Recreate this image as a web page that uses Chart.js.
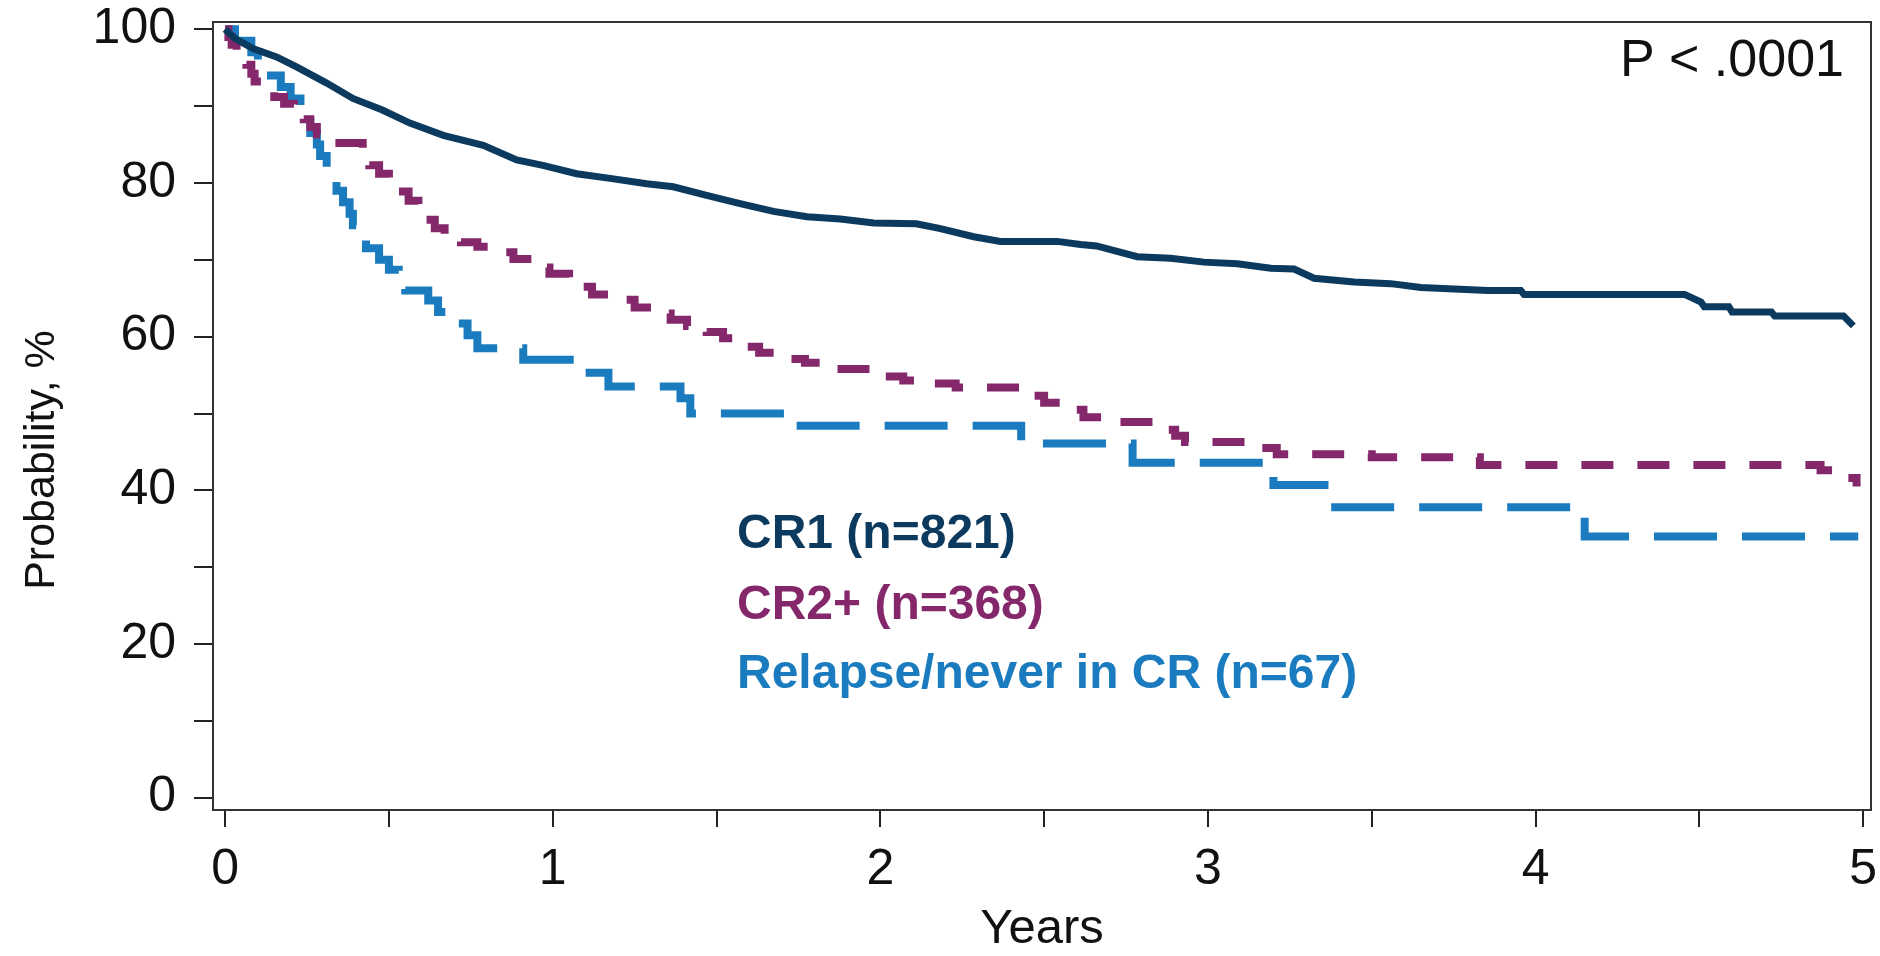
<!DOCTYPE html>
<html>
<head>
<meta charset="utf-8">
<script src="https://cdn.jsdelivr.net/npm/chart.js@4.4.1/dist/chart.umd.min.js"></script>
<style>
  html, body { margin: 0; padding: 0; background: #fff; }
  #wrap { width: 1880px; height: 956px; }
</style>
</head>
<body>
<div id="wrap"><canvas id="km" width="1880" height="956"></canvas></div>
<script>
// Kaplan-Meier curves, years vs probability (%)
const cr1Years = [0, 0.03, 0.085, 0.157, 0.218, 0.31, 0.39, 0.48, 0.564, 0.666, 0.788, 0.89, 0.97, 1.073, 1.175, 1.287, 1.368, 1.47, 1.572, 1.674, 1.776, 1.878, 1.98, 2.11, 2.18, 2.285, 2.367, 2.54, 2.611, 2.66, 2.784, 2.886, 2.988, 3.09, 3.192, 3.263, 3.324, 3.446, 3.558, 3.65, 3.854, 3.955, 3.965, 4.455, 4.505, 4.515, 4.59, 4.6, 4.72, 4.73, 4.94, 4.97];
const cr1Prob = [100, 98.8, 97.5, 96.4, 95.1, 93.0, 91.0, 89.5, 87.8, 86.2, 84.9, 83.0, 82.3, 81.2, 80.6, 79.9, 79.5, 78.4, 77.3, 76.3, 75.6, 75.3, 74.8, 74.7, 74.1, 73.0, 72.4, 72.4, 72.0, 71.8, 70.4, 70.2, 69.7, 69.5, 68.9, 68.8, 67.6, 67.1, 66.9, 66.4, 66.0, 66.0, 65.5, 65.5, 64.5, 63.9, 63.9, 63.2, 63.2, 62.7, 62.7, 61.4];

const cr2Years = [0, 0.01, 0.02, 0.035, 0.05, 0.065, 0.08, 0.09, 0.12, 0.15, 0.18, 0.21, 0.24, 0.26, 0.28, 0.3, 0.42, 0.44, 0.47, 0.5, 0.53, 0.56, 0.59, 0.61, 0.64, 0.67, 0.72, 0.77, 0.84, 0.88, 0.95, 0.99, 1.05, 1.09, 1.12, 1.21, 1.25, 1.3, 1.36, 1.41, 1.47, 1.52, 1.58, 1.63, 1.72, 1.77, 1.83, 2.0, 2.07, 2.16, 2.23, 2.44, 2.5, 2.57, 2.62, 2.7, 2.86, 2.9, 2.93, 3.15, 3.21, 3.5, 3.83, 4.87, 4.95, 4.98];
const cr2Prob = [100, 99, 98, 97, 96.2, 95.4, 94.2, 93.2, 92.2, 91.2, 90.3, 89.4, 88.3, 87.3, 86.3, 85.2, 83.6, 82.3, 81.2, 80, 78.9, 77.7, 76.4, 75.2, 74.1, 73.2, 72.3, 71.7, 71, 70.1, 69, 68.2, 67.3, 66.5, 65.5, 64.8, 63.8, 63, 62.2, 61.4, 60.6, 59.8, 58.7, 57.9, 57.1, 56.6, 55.8, 54.8, 54.3, 53.9, 53.4, 52.3, 51.4, 50.5, 49.5, 48.9, 47.9, 47.1, 46.3, 45.5, 44.7, 44.3, 43.3, 42.6, 41.6, 40.5];

const relYears = [0, 0.03, 0.08, 0.10, 0.12, 0.17, 0.2, 0.23, 0.24, 0.26, 0.28, 0.29, 0.31, 0.32, 0.34, 0.36, 0.38, 0.39, 0.41, 0.43, 0.47, 0.50, 0.53, 0.55, 0.62, 0.65, 0.70, 0.74, 0.77, 0.91, 1.08, 1.17, 1.39, 1.42, 1.72, 2.43, 2.77, 3.2, 3.37, 4.15, 4.985];
const relProb = [100, 98.5, 97, 95.5, 94, 92.5, 91, 89.5, 88, 86.5, 85, 83.5, 82, 80.5, 79, 77.5, 76, 74.5, 73, 71.5, 70, 68.7, 67.2, 66, 64.7, 63.2, 61.7, 60.2, 58.5, 57, 55.3, 53.5, 52, 50, 48.4, 46.1, 43.6, 40.7, 37.8, 34, 34];

const seriesLabels = ['CR1 (n=821)', 'CR2+ (n=368)', 'Relapse/never in CR (n=67)'];
const xTicks = [0, 0.5, 1, 1.5, 2, 2.5, 3, 3.5, 4, 4.5, 5];
const yTicks = [0, 10, 20, 30, 40, 50, 60, 70, 80, 90, 100];
const pValueText = 'P < .0001';

const FONT = '"Liberation Sans", Arial, sans-serif';
const colors = ['#0c3a5e', '#85286b', '#1a7cbf'];

function toPoints(xs, ys) {
    return xs.map((x, i) => ({ x: x, y: ys[i] }));
}

// box around plot, p value, coloured legend text, y title
const extras = {
    id: 'extras',
    afterDraw(chart) {
        const ctx = chart.ctx;
        const a = chart.chartArea;
        ctx.save();
        ctx.strokeStyle = '#333';
        ctx.lineWidth = 2;
        ctx.strokeRect(a.left, a.top, a.right - a.left, a.bottom - a.top);

        ctx.fillStyle = '#111';
        ctx.font = '52px ' + FONT;
        ctx.textAlign = 'right';
        ctx.textBaseline = 'alphabetic';
        ctx.fillText(pValueText, 1844, 76);

        ctx.textAlign = 'left';
        ctx.font = 'bold 48px ' + FONT;
        const rows = [548, 619, 688];
        chart.data.datasets.forEach(function (ds, i) {
            ctx.fillStyle = ds.borderColor;
            ctx.fillText(ds.label, 737, rows[i]);
        });

        ctx.translate(54, 460);
        ctx.rotate(-Math.PI / 2);
        ctx.textAlign = 'center';
        ctx.fillStyle = '#111';
        ctx.font = '43px ' + FONT;
        ctx.fillText('Probability, %', 0, 0);
        ctx.restore();
    }
};

const config = {
    type: 'line',
    data: {
        datasets: [{
            label: seriesLabels[0],
            data: toPoints(cr1Years, cr1Prob),
            borderColor: colors[0],
            borderWidth: 7,
            pointRadius: 0,
            tension: 0,
            fill: false
        },
        {
            label: seriesLabels[1],
            data: toPoints(cr2Years, cr2Prob),
            borderColor: colors[1],
            borderWidth: 8,
            borderDash: [32, 24],
            stepped: true,
            pointRadius: 0,
            fill: false
        },
        {
            label: seriesLabels[2],
            data: toPoints(relYears, relProb),
            borderColor: colors[2],
            borderWidth: 8,
            borderDash: [63, 25],
            stepped: true,
            pointRadius: 0,
            fill: false
        }]
    },
    options: {
        responsive: false,
        animation: false,
        devicePixelRatio: 1,
        layout: { padding: { top: 22, right: 9, left: 0, bottom: 0 } },
        plugins: {
            legend: { display: false },
            tooltip: { enabled: false }
        },
        scales: {
            x: {
                type: 'linear',
                min: -0.037,
                max: 5.024,
                afterBuildTicks: function (s) { s.ticks = xTicks.map(v => ({ value: v })); },
                afterFit: function (s) { s.height = 146; s.paddingLeft = 0; s.paddingRight = 0; },
                grid: { drawOnChartArea: false, drawTicks: true, tickLength: 17, color: '#222', lineWidth: 2 },
                border: { display: false },
                ticks: {
                    autoSkip: false,
                    maxRotation: 0,
                    padding: 13,
                    color: '#111',
                    font: { family: FONT, size: 50 },
                    callback: function (v) { return Number.isInteger(v) ? String(v) : ''; }
                },
                title: {
                    display: true,
                    text: 'Years',
                    color: '#111',
                    font: { family: FONT, size: 49, lineHeight: 1 },
                    padding: { top: 0, bottom: 2 }
                }
            },
            y: {
                type: 'linear',
                min: -1.6,
                max: 100.95,
                afterBuildTicks: function (s) { s.ticks = yTicks.map(v => ({ value: v })); },
                afterFit: function (s) { s.width = 213; s.paddingTop = 0; s.paddingBottom = 0; },
                grid: { drawOnChartArea: false, drawTicks: true, tickLength: 19, color: '#222', lineWidth: 2 },
                border: { display: false },
                ticks: {
                    autoSkip: false,
                    padding: 18,
                    color: '#111',
                    font: { family: FONT, size: 50 },
                    callback: function (v) { return v % 20 === 0 ? String(v) : ''; }
                }
            }
        }
    },
    plugins: [extras]
};

var kmChart = new Chart(document.getElementById('km'), config);
</script>
</body>
</html>
